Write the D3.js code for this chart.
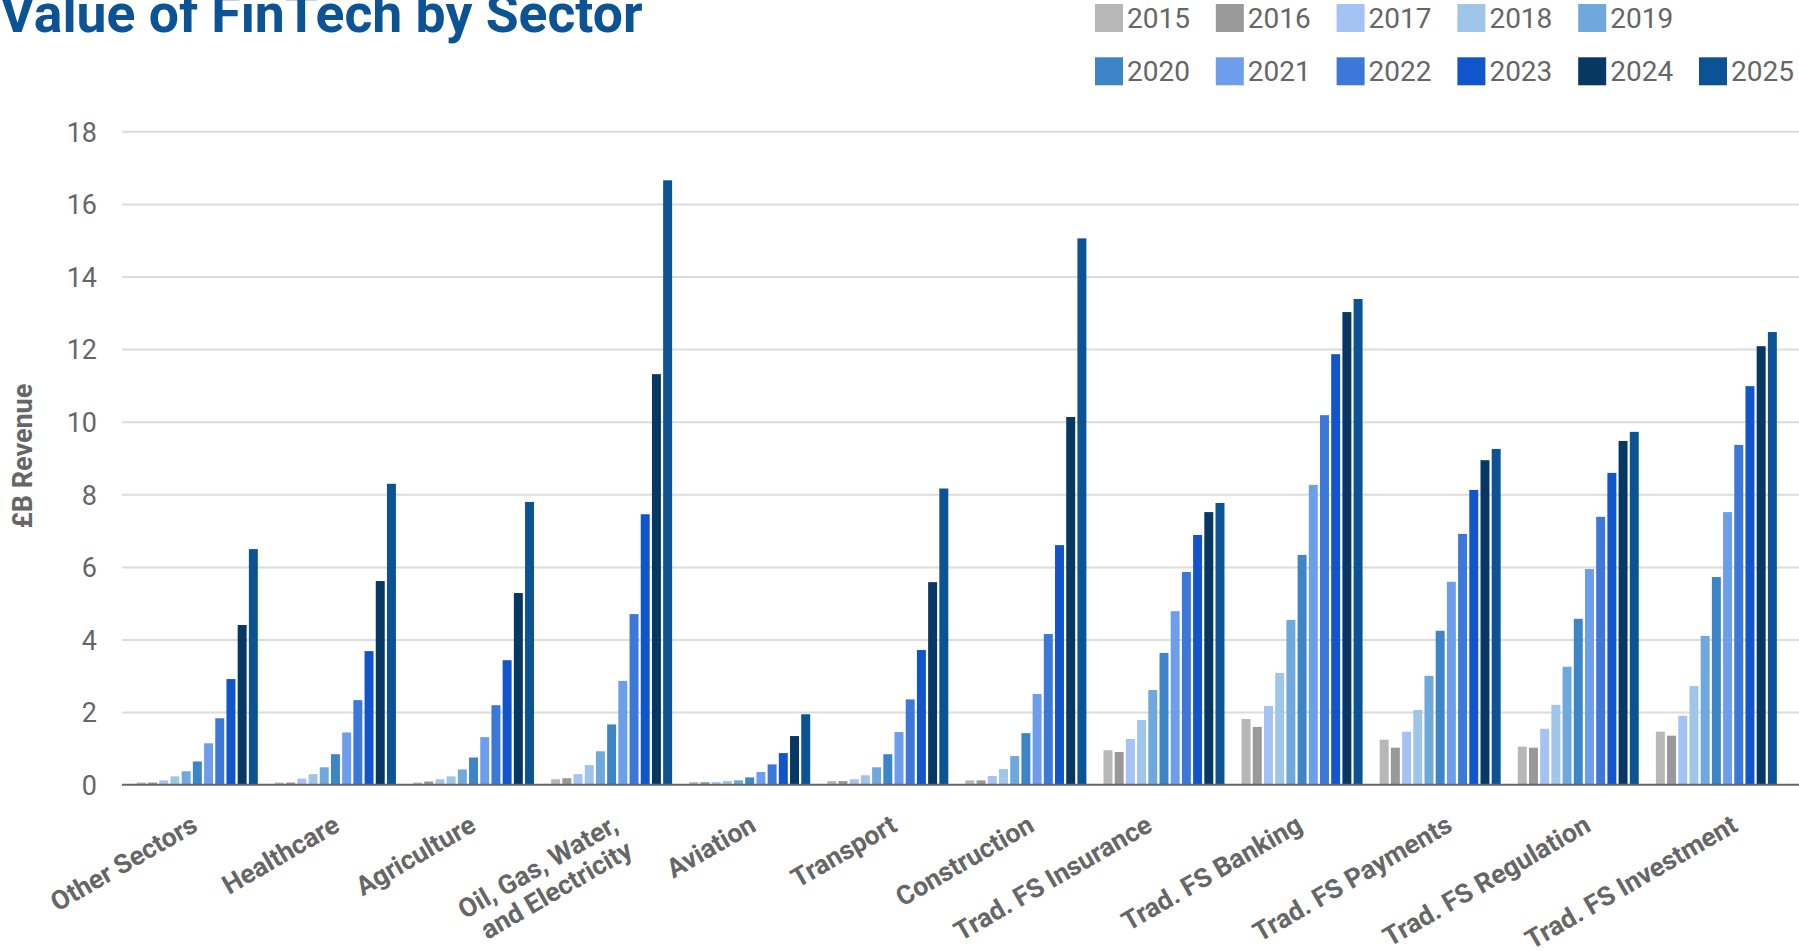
<!DOCTYPE html>
<html>
<head>
<meta charset="utf-8">
<script src="https://cdn.jsdelivr.net/npm/d3@7"></script>
<style>
  html, body { margin: 0; padding: 0; background: #ffffff; overflow: hidden; }
  svg { display: block; font-family: Roboto, "Noto Sans", sans-serif; }
</style>
</head>
<body>
<svg id="chart" width="1799" height="951"></svg>
<script>
// Sectors along the x axis ("\n" breaks a label onto a second line)
const categories = [
  "Other Sectors", "Healthcare", "Agriculture", "Oil, Gas, Water,\nand Electricity",
  "Aviation", "Transport", "Construction", "Trad. FS Insurance",
  "Trad. FS Banking", "Trad. FS Payments", "Trad. FS Regulation", "Trad. FS Investment"
];

const years = ["2015", "2016", "2017", "2018", "2019", "2020", "2021", "2022", "2023", "2024", "2025"];
const yearColors = ["#b7b7b7", "#999999", "#a4c2f4", "#9fc5e8", "#6fa8dc", "#3d85c6",
                    "#6d9eeb", "#3c78d8", "#1155cc", "#073763", "#0b5394"];

// Revenue in £B per sector, one array per year (same order as categories)
const rev2015 = [0.06, 0.06, 0.06, 0.15, 0.07, 0.10, 0.12, 0.95, 1.81, 1.24, 1.05, 1.46];
const rev2016 = [0.06, 0.06, 0.09, 0.18, 0.07, 0.10, 0.12, 0.90, 1.59, 1.02, 1.02, 1.35];
const rev2017 = [0.12, 0.17, 0.15, 0.29, 0.07, 0.15, 0.24, 1.26, 2.17, 1.46, 1.54, 1.90];
const rev2018 = [0.23, 0.29, 0.23, 0.54, 0.10, 0.26, 0.43, 1.78, 3.08, 2.06, 2.20, 2.72];
const rev2019 = [0.37, 0.48, 0.42, 0.92, 0.12, 0.48, 0.79, 2.61, 4.54, 3.00, 3.25, 4.10];
const rev2020 = [0.64, 0.84, 0.75, 1.66, 0.20, 0.84, 1.42, 3.63, 6.33, 4.24, 4.57, 5.72];
const rev2021 = [1.14, 1.44, 1.31, 2.86, 0.35, 1.45, 2.50, 4.78, 8.26, 5.59, 5.94, 7.51];
const rev2022 = [1.83, 2.33, 2.19, 4.70, 0.56, 2.35, 4.15, 5.86, 10.18, 6.91, 7.38, 9.36];
const rev2023 = [2.91, 3.68, 3.43, 7.45, 0.87, 3.71, 6.60, 6.88, 11.86, 8.12, 8.59, 10.98];
const rev2024 = [4.40, 5.61, 5.28, 11.31, 1.34, 5.58, 10.13, 7.51, 13.02, 8.94, 9.47, 12.08];
const rev2025 = [6.49, 8.29, 7.79, 16.65, 1.94, 8.16, 15.05, 7.76, 13.38, 9.25, 9.72, 12.47];

const yTicks = [0, 2, 4, 6, 8, 10, 12, 14, 16, 18];

const title = "Value of FinTech by Sector";
const yTitle = "£B Revenue";

const seriesValues = [rev2015, rev2016, rev2017, rev2018, rev2019, rev2020,
                      rev2021, rev2022, rev2023, rev2024, rev2025];

// Horizontal nudges (px) for each slanted category label
const labelShift = [2, 6, 4, 8, 8, 11, 10, -10, 2, 14, 14, 23];

const svg = d3.select("#chart");
const textGray = "#666666";

// Scales
const y = d3.scaleLinear().domain([0, 18]).range([784.7, 131.3]);
const x0 = d3.scaleBand().domain(d3.range(categories.length))
  .range([128.3, 1785.4]).paddingInner(0.124).paddingOuter(0.062);
const x1 = d3.scaleBand().domain(d3.range(years.length))
  .range([0, x0.bandwidth()]).paddingInner(0.2).paddingOuter(0);
const color = d3.scaleOrdinal().domain(years).range(yearColors);

const gridLeft = 122, gridRight = 1799;

// Gridlines and tick labels
const yAxis = d3.axisLeft(y).tickValues(yTicks).tickSize(0).tickPadding(0);
const axisG = svg.append("g").attr("transform", `translate(${gridLeft},0)`).call(yAxis);
axisG.select(".domain").remove();
axisG.selectAll(".tick line").remove();
axisG.selectAll(".tick")
  .filter(d => d !== 0)
  .append("line")
  .attr("x1", 0).attr("x2", gridRight - gridLeft)
  .attr("stroke", "#dcdcdc").attr("stroke-width", 2);
axisG.selectAll(".tick text")
  .attr("x", 97 - gridLeft)
  .attr("dy", "0.36em")
  .attr("fill", textGray)
  .attr("font-family", "Roboto, sans-serif")
  .attr("font-size", 27)
  .attr("text-anchor", "end");

// Bars
const groups = svg.append("g").selectAll("g")
  .data(categories)
  .join("g")
  .attr("transform", (d, i) => `translate(${x0(i)},0)`);

groups.selectAll("rect")
  .data((d, ci) => years.map((yr, si) => ({ yr, si, v: seriesValues[si][ci] })))
  .join("rect")
  .attr("x", d => x1(d.si))
  .attr("width", x1.bandwidth())
  .attr("y", d => y(d.v))
  .attr("height", d => y(0) - y(d.v))
  .attr("fill", d => color(d.yr));

// Baseline
svg.append("line")
  .attr("x1", gridLeft).attr("x2", gridRight)
  .attr("y1", y(0)).attr("y2", y(0))
  .attr("stroke", "#666666").attr("stroke-width", 2);

// Slanted category labels
categories.forEach((c, i) => {
  const cx = x0(i) + x0.bandwidth() / 2;
  const t = svg.append("text")
    .attr("transform", `translate(${cx + labelShift[i]},830) rotate(-30)`)
    .attr("text-anchor", "end")
    .attr("font-family", "Roboto, sans-serif")
    .attr("font-weight", 700)
    .attr("font-size", 26.5)
    .attr("fill", textGray);
  c.split("\n").forEach((line, li) => {
    t.append("tspan").attr("x", 0).attr("dy", li === 0 ? 0 : "1.1em").text(line);
  });
});

// Y axis title
svg.append("text")
  .attr("transform", "translate(32,456) rotate(-90)")
  .attr("text-anchor", "middle")
  .attr("font-family", "Roboto, sans-serif")
  .attr("font-weight", 700)
  .attr("font-size", 27)
  .attr("fill", textGray)
  .text(yTitle);

// Chart title
svg.append("text")
  .attr("x", 0).attr("y", 32)
  .attr("font-family", "Roboto, sans-serif")
  .attr("font-weight", 700)
  .attr("font-size", 53.5)
  .attr("fill", "#0b5394")
  .text(title);

// Legend: two rows
const legendRows = [years.slice(0, 5), years.slice(5)];
legendRows.forEach((row, ri) => {
  row.forEach((yr, k) => {
    const lx = 1095 + k * 120.8;
    const ly = 4 + ri * 53.3;
    svg.append("rect")
      .attr("x", lx).attr("y", ly).attr("width", 28).attr("height", 28)
      .attr("fill", color(yr));
    svg.append("text")
      .attr("x", lx + 32).attr("y", ly + 23.5)
      .attr("font-family", "Roboto, sans-serif")
      .attr("font-size", 28)
      .attr("fill", textGray)
      .text(yr);
  });
});
</script>
</body>
</html>
